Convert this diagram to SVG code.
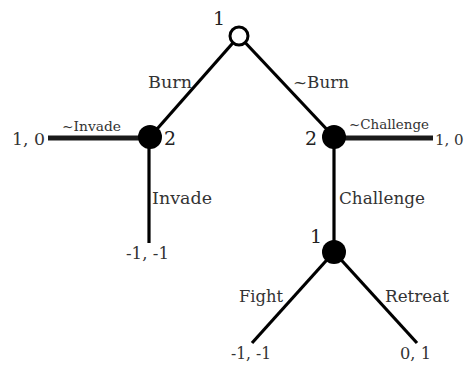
<svg xmlns="http://www.w3.org/2000/svg" width="464" height="367" viewBox="0 0 464 367">
<style>
.e{stroke:#000;stroke-width:3.2;stroke-linecap:butt;fill:none}
.h{stroke:#1a1a1a;stroke-width:5;fill:none}
.n{fill:#000}
.o{fill:#fff;stroke:#000;stroke-width:3}
text{font-family:"DejaVu Serif","Liberation Serif",serif;fill:#333}
.l{font-size:17.5px}
.s{font-size:13px}
.p{font-size:19px;fill:#222}
</style>
<rect width="464" height="367" fill="#fff"/>
<g id="connectors">
<line class="e" x1="239" y1="36" x2="150" y2="137"/>
<line class="e" x1="239" y1="36" x2="334" y2="137"/>
<line class="h" x1="48" y1="138" x2="150" y2="138"/>
<line class="h" x1="334" y1="138" x2="433" y2="138"/>
<line class="e" x1="149" y1="137" x2="149" y2="243"/>
<line class="e" x1="334" y1="137" x2="334" y2="252"/>
<line class="e" x1="334" y1="252" x2="252" y2="343"/>
<line class="e" x1="334" y1="252" x2="417" y2="343"/>
<text class="l" x="148" y="88" textLength="44" lengthAdjust="spacingAndGlyphs">Burn</text>
<text class="l" x="293" y="88" textLength="56" lengthAdjust="spacingAndGlyphs">~Burn</text>
<text class="s" x="62" y="131" textLength="59" lengthAdjust="spacingAndGlyphs">~Invade</text>
<text class="s" x="349" y="129" textLength="80" lengthAdjust="spacingAndGlyphs">~Challenge</text>
<text class="l" x="152" y="204" textLength="60" lengthAdjust="spacingAndGlyphs">Invade</text>
<text class="l" x="339" y="204" textLength="86" lengthAdjust="spacingAndGlyphs">Challenge</text>
<text class="l" x="239" y="302" textLength="44" lengthAdjust="spacingAndGlyphs">Fight</text>
<text class="l" x="385" y="302" textLength="64" lengthAdjust="spacingAndGlyphs">Retreat</text>
</g>
<g id="root">
<circle class="o" cx="239" cy="36" r="9"/>
<text class="p" x="213" y="25">1</text>
</g>
<g id="p2left">
<circle class="n" cx="150" cy="137" r="12"/>
<text class="p" x="164" y="145">2</text>
</g>
<g id="p2right">
<circle class="n" cx="334" cy="137" r="12"/>
<text class="p" x="305" y="145">2</text>
</g>
<g id="p1bottom">
<circle class="n" cx="334" cy="252" r="12"/>
<text class="p" x="310" y="243">1</text>
</g>
<g id="leaf-notinvade"><text class="l" x="12" y="145" textLength="33" lengthAdjust="spacingAndGlyphs">1, 0</text></g>
<g id="leaf-invade"><text class="l" x="126" y="259" textLength="43" lengthAdjust="spacingAndGlyphs">-1, -1</text></g>
<g id="leaf-notchallenge"><text x="435" y="145" font-size="15px">1, 0</text></g>
<g id="leaf-fight"><text class="l" x="231" y="359" textLength="40" lengthAdjust="spacingAndGlyphs">-1, -1</text></g>
<g id="leaf-retreat"><text class="l" x="400" y="359" textLength="31" lengthAdjust="spacingAndGlyphs">0, 1</text></g>
</svg>
